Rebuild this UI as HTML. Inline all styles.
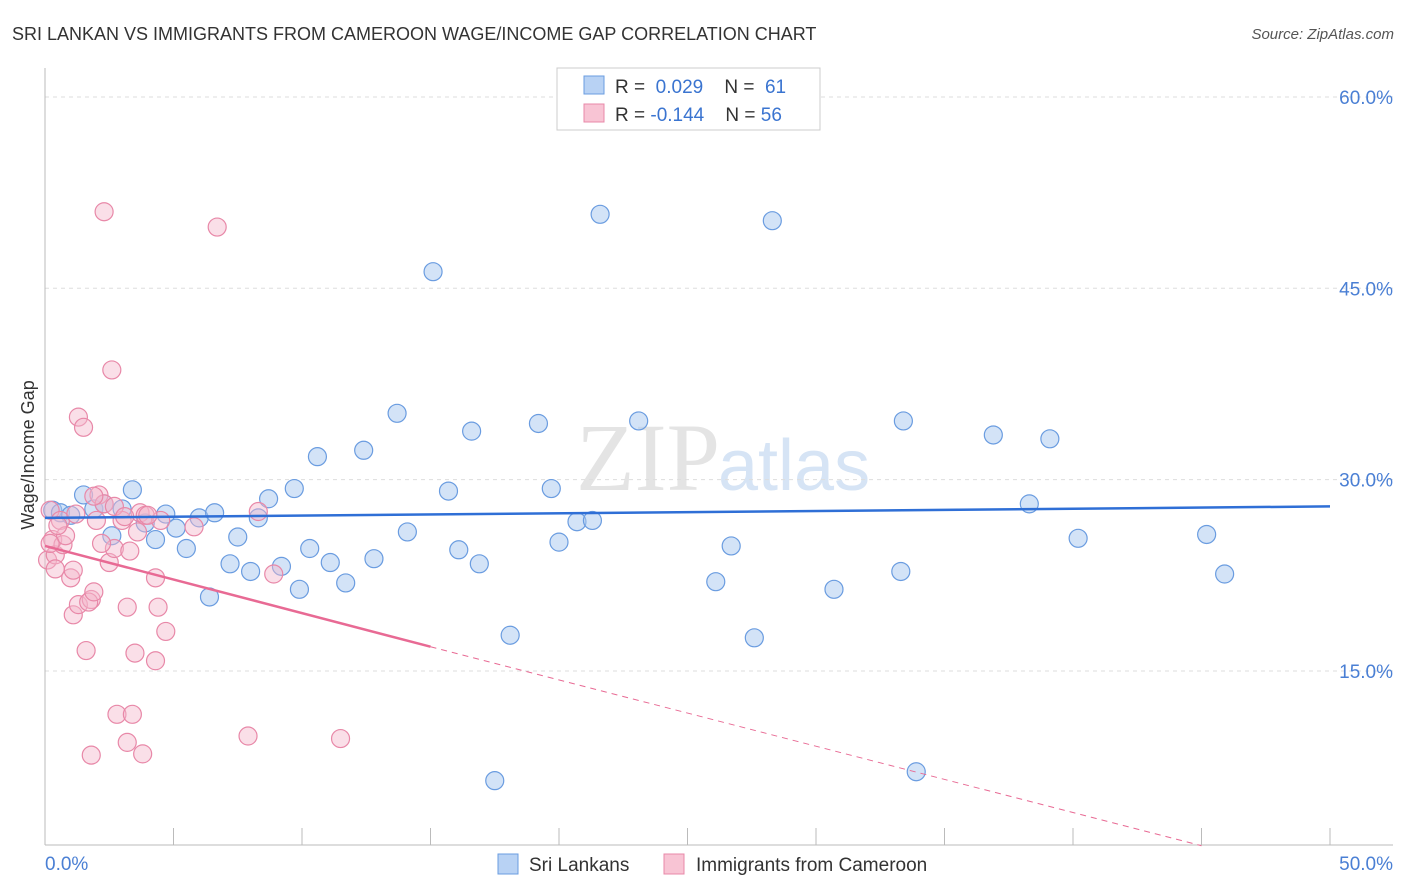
<!DOCTYPE html>
<html><head><meta charset="utf-8"><style>
body{margin:0;background:#fff;font-family:"Liberation Sans",sans-serif}
</style></head><body>
<svg id="c" width="1406" height="892" style="display:block">
<text x="12" y="40" font-size="18" fill="#333">SRI LANKAN VS IMMIGRANTS FROM CAMEROON WAGE/INCOME GAP CORRELATION CHART</text>
<text x="1394" y="39" font-size="15" fill="#555" text-anchor="end" font-style="italic">Source: ZipAtlas.com</text>
<text x="720" y="490" font-size="96" fill="#e4e4e4" text-anchor="end" font-family="Liberation Serif">ZIP</text>
<text x="718" y="490" font-size="72" fill="#d6e4f5">atlas</text>
<text transform="translate(34,455) rotate(-90)" font-size="18" fill="#333" text-anchor="middle">Wage/Income Gap</text>
<g id="grid"></g><g id="pts"></g><g id="lines"></g>
<g>
<rect x="557" y="68" width="263" height="62" fill="#fff" stroke="#ccc"/>
<rect x="584" y="76" width="20" height="18" fill="#b8d2f4" stroke="#6a9ce0"/>
<rect x="584" y="104" width="20" height="18" fill="#f8c4d4" stroke="#e888a8"/>
<text x="615" y="93" font-size="19" fill="#333">R = <tspan fill="#3a74d0">&#160;0.029</tspan>&#160;&#160;&#160; N = <tspan fill="#3a74d0">&#160;61</tspan></text>
<text x="615" y="121" font-size="19" fill="#333">R = <tspan fill="#3a74d0">-0.144</tspan>&#160;&#160;&#160; N = <tspan fill="#3a74d0">56</tspan></text>
</g>
<g>
<rect x="498" y="854" width="20" height="20" fill="#b8d2f4" stroke="#6a9ce0"/>
<text x="529" y="871" font-size="19" fill="#333">Sri Lankans</text>
<rect x="664" y="854" width="20" height="20" fill="#f8c4d4" stroke="#e888a8"/>
<text x="696" y="871" font-size="19" fill="#333">Immigrants from Cameroon</text>
</g>
</svg>
<script>
const yTicks=[15,30,45,60];
const yTickLabels=["15.0%","30.0%","45.0%","60.0%"];
const xTickVals=[0,5,10,15,20,25,30,35,40,45,50];
const blueX=[0.3,0.6,1,1.5,1.9,2.3,2.6,3,3.4,3.9,4.3,4.7,5.1,5.5,6,6.4,6.6,7.2,7.5,8,8.3,8.7,9.2,9.7,9.9,10.3,10.6,11.1,11.7,12.4,12.8,13.7,14.1,15.1,15.7,16.1,16.6,16.9,17.5,18.1,19.2,19.7,20,20.7,21.3,21.6,23.1,26.1,26.7,27.6,28.3,30.7,33.3,33.4,33.9,36.9,38.3,39.1,40.2,45.2,45.9];
const blueY=[27.6,27.4,27.2,28.8,27.7,28.1,25.6,27.7,29.2,26.6,25.3,27.3,26.2,24.6,27,20.8,27.4,23.4,25.5,22.8,27,28.5,23.2,29.3,21.4,24.6,31.8,23.5,21.9,32.3,23.8,35.2,25.9,46.3,29.1,24.5,33.8,23.4,6.4,17.8,34.4,29.3,25.1,26.7,26.8,50.8,34.6,22,24.8,17.6,50.3,21.4,22.8,34.6,7.1,33.5,28.1,33.2,25.4,25.7,22.6];
const pinkX=[0.2,0.1,0.3,0.4,0.6,0.7,1,1.1,1.3,1.1,1.3,1.5,1.6,1.8,1.7,1.9,1.8,2,2.1,2.3,2.3,2.5,2.6,2.7,2.8,3,3.2,3.2,3.4,3.5,3.6,3.7,3.8,3.9,4.3,4.3,4.4,4.7,5.8,6.7,7.9,8.3,8.9,11.5,1.9,0.8,0.5,2.7,3.1,4.5,0.2,0.4,1.2,2.2,3.3,4];
const pinkY=[27.6,23.7,25.3,24.1,26.8,24.9,22.3,22.9,34.9,19.4,20.2,34.1,16.6,20.6,20.4,21.2,8.4,26.8,28.8,28.1,51,23.5,38.6,24.6,11.6,26.8,20,9.4,11.6,16.4,25.9,27.4,8.5,27.2,22.3,15.8,20,18.1,26.3,49.8,9.9,27.5,22.6,9.7,28.7,25.6,26.4,27.9,27.1,26.8,25,23,27.3,25,24.4,27.2];
const X=v=>45+v*25.7, Y=v=>862.3-v*12.756;
const ns="http://www.w3.org/2000/svg";
function mk(t,a,p){const e=document.createElementNS(ns,t);for(const k in a)e.setAttribute(k,a[k]);p.appendChild(e);return e;}
const grid=document.getElementById('grid'),pts=document.getElementById('pts'),lines=document.getElementById('lines');
yTicks.forEach((v,i)=>{
 const l=mk('line',{x1:45,x2:1393,y1:Y(v),y2:Y(v),stroke:'#ddd','stroke-dasharray':'4,4'},grid);
 
 
 const t=mk('text',{x:1393,y:Y(v)+7,'font-size':19,fill:'#4a7fd4','text-anchor':'end'},grid);
 t.textContent=yTickLabels[i];
 
 
});
const ax=mk('line',{x1:45,x2:1393,y1:845,y2:845,stroke:'#bbb'},grid);


const ay=mk('line',{x1:45,x2:45,y1:68,y2:845,stroke:'#bbb'},grid);


xTickVals.forEach(v=>{const t=mk('line',{x1:X(v),x2:X(v),y1:828,y2:845,stroke:'#bbb'},grid);
 
 });
[["0.0%",45,"start"],["50.0%",1393,"end"]].forEach(a=>{const t=mk('text',{x:a[1],y:870,'font-size':19,fill:'#4a7fd4','text-anchor':a[2]},grid);t.textContent=a[0];
 
 });
blueX.forEach((x,i)=>{const c=mk('circle',{cx:X(x),cy:Y(blueY[i]),r:9,fill:'rgba(168,200,240,0.5)',stroke:'#6a9ce0','stroke-width':1.2},pts);
 
 });
pinkX.forEach((x,i)=>{const c=mk('circle',{cx:X(x),cy:Y(pinkY[i]),r:9,fill:'rgba(245,184,204,0.45)',stroke:'#e888a8','stroke-width':1.2},pts);
 
 });
const bl=mk('line',{x1:X(0),y1:Y(27.0),x2:X(50),y2:Y(27.9),stroke:'#2f6fd6','stroke-width':2.5},lines);


const pl=mk('line',{x1:X(0),y1:Y(24.8),x2:X(15),y2:Y(16.9),stroke:'#e86a94','stroke-width':2.5},lines);


const pd=mk('line',{x1:X(15),y1:Y(16.9),x2:X(45),y2:Y(1.3),stroke:'#e86a94','stroke-width':1,'stroke-dasharray':'6,5'},lines);


</script>
</body></html>
